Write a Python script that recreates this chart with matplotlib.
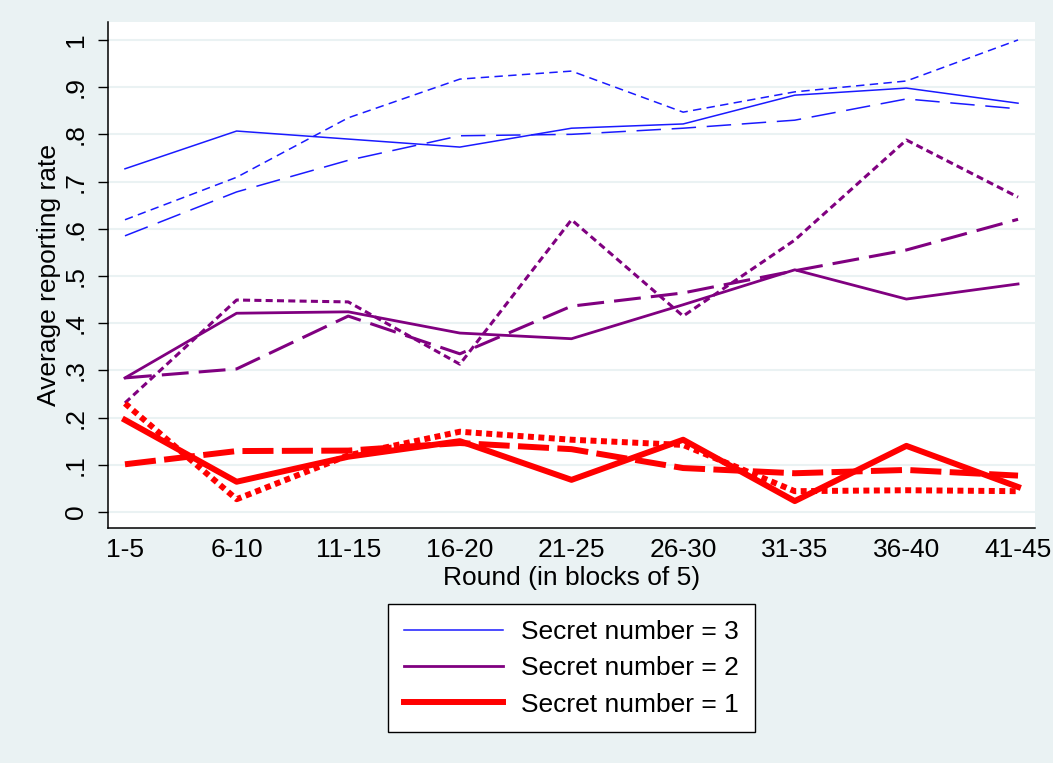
import matplotlib
matplotlib.use("Agg")
import matplotlib.pyplot as plt
from matplotlib.lines import Line2D

plt.rcParams['font.family'] = ['Liberation Sans', 'DejaVu Sans']

rounds = ["1-5", "6-10", "11-15", "16-20", "21-25", "26-30", "31-35", "36-40", "41-45"]

# Secret number = 3 (blue)
s3_solid = [0.727, 0.807, 0.790, 0.773, 0.813, 0.822, 0.883, 0.898, 0.866]
s3_short = [0.619, 0.709, 0.835, 0.917, 0.934, 0.847, 0.890, 0.913, 1.000]
s3_long = [0.585, 0.678, 0.745, 0.797, 0.800, 0.813, 0.830, 0.875, 0.854]

# Secret number = 2 (purple)
s2_solid = [0.284, 0.421, 0.424, 0.379, 0.367, 0.439, 0.513, 0.451, 0.483]
s2_short = [0.231, 0.449, 0.445, 0.313, 0.619, 0.415, 0.576, 0.788, 0.667]
s2_long = [0.284, 0.303, 0.415, 0.335, 0.436, 0.464, 0.511, 0.555, 0.620]

# Secret number = 1 (red)
s1_solid = [0.195, 0.064, 0.117, 0.150, 0.068, 0.153, 0.023, 0.140, 0.053]
s1_dot = [0.230, 0.027, 0.120, 0.170, 0.153, 0.142, 0.044, 0.046, 0.044]
s1_long = [0.101, 0.129, 0.130, 0.146, 0.133, 0.093, 0.082, 0.089, 0.077]

yticks = [0, 0.1, 0.2, 0.3, 0.4, 0.5, 0.6, 0.7, 0.8, 0.9, 1.0]
ytick_labels = ["0", ".1", ".2", ".3", ".4", ".5", ".6", ".7", ".8", ".9", "1"]
legend_labels = ["Secret number = 3", "Secret number = 2", "Secret number = 1"]

BG = "#EAF2F3"
BLUE = "#1A1AFF"
PURPLE = "#800080"
RED = "#FF0000"
FS = 19

fig = plt.figure(figsize=(10.53, 7.63), dpi=100, facecolor=BG)
ax = fig.add_axes([108/1053, 1-528/763, (1035-108)/1053, (528-22)/763])
ax.set_facecolor("white")

x = list(range(len(rounds)))

ax.plot(x, s3_solid, color=BLUE, lw=1.1, zorder=3)
ax.plot(x, s3_short, color=BLUE, lw=1.1, linestyle=(0, (5.5, 3.5)), zorder=3)
ax.plot(x, s3_long, color=BLUE, lw=1.1, linestyle=(0, (16, 7)), zorder=3)

ax.plot(x, s2_solid, color=PURPLE, lw=2.0, zorder=4)
ax.plot(x, s2_short, color=PURPLE, lw=2.2, linestyle=(0, (2.3, 1.4)), zorder=4)
ax.plot(x, s2_long, color=PURPLE, lw=2.2, linestyle=(0, (8.8, 3.3)), zorder=4)

ax.plot(x, s1_solid, color=RED, lw=4.3, zorder=5)
ax.plot(x, s1_dot, color=RED, lw=4.3, linestyle=(0, (1.0, 0.75)), zorder=5)
ax.plot(x, s1_long, color=RED, lw=4.3, linestyle=(0, (5.2, 1.4)), zorder=5)

ax.set_xlim(-0.152, 8.152)
ax.set_ylim(-0.034, 1.038)
ax.set_xticks(x)
ax.set_xticklabels(rounds, fontsize=FS)
ax.set_yticks(yticks)
ax.set_yticklabels(ytick_labels, fontsize=FS, rotation=90, va='center')
ax.tick_params(axis='x', length=0, pad=7)
ax.tick_params(axis='y', length=7.5, width=1.0, pad=7, direction='out')
ax.grid(axis='y', color=BG, lw=1.5, zorder=0)
ax.set_axisbelow(True)

for s in ['top', 'right']:
    ax.spines[s].set_visible(False)
for s in ['left', 'bottom']:
    ax.spines[s].set_color('black')
    ax.spines[s].set_linewidth(1.1)

ax.set_xlabel("Round (in blocks of 5)", fontsize=FS, labelpad=3)
ax.set_ylabel("Average reporting rate", fontsize=FS, labelpad=2)

handles = [Line2D([], [], color=BLUE, lw=1.1),
           Line2D([], [], color=PURPLE, lw=2.0),
           Line2D([], [], color=RED, lw=4.3)]
leg = fig.legend(handles, legend_labels, loc='upper center',
                 bbox_to_anchor=(571.5/1053, 1-604/763), fontsize=FS,
                 frameon=True, fancybox=False, edgecolor='black',
                 facecolor='white', framealpha=1, handlelength=3.75,
                 handletextpad=0.7, labelspacing=0.47, borderpad=0.6,
                 borderaxespad=0)
leg.get_frame().set_linewidth(1.0)

fig.savefig("out.png", dpi=100, facecolor=BG)
